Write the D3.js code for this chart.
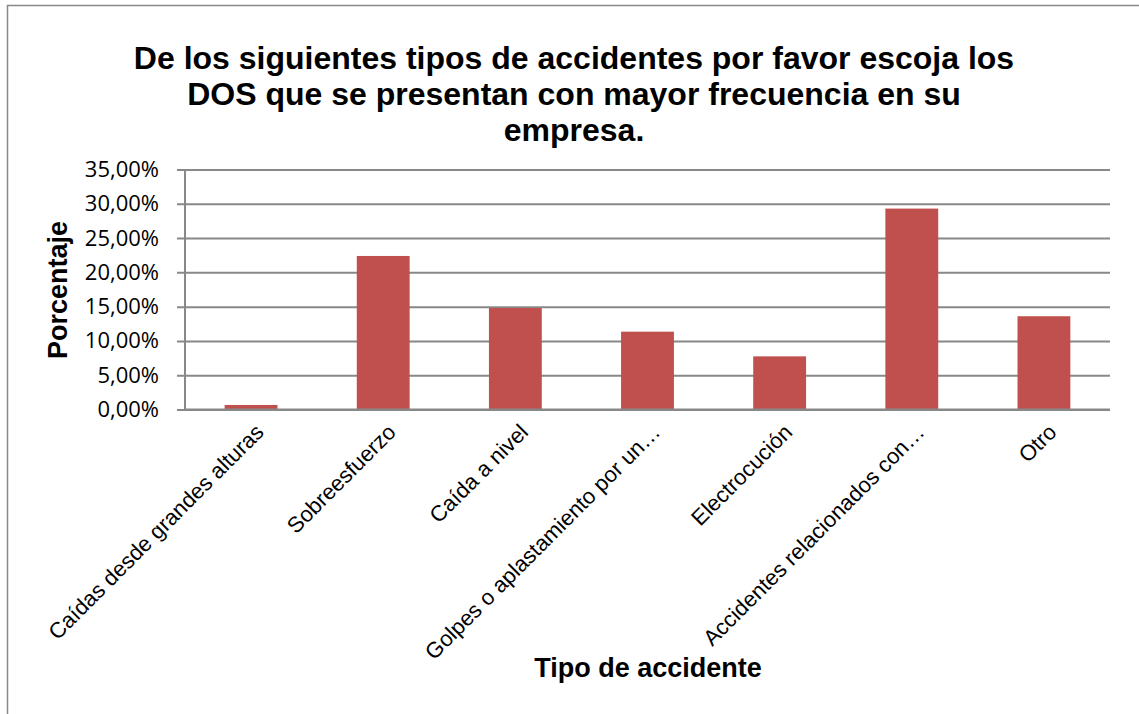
<!DOCTYPE html>
<meta charset="utf-8">
<head>
    <style>
        body { margin: 0; background: white; }
    </style>
</head>
<body>
    <script src="https://d3js.org/d3.v7.min.js"></script>
    <div id="chart"></div>
    <script>
        // data
        var categories = ["Caídas desde grandes alturas", "Sobreesfuerzo", "Caída a nivel",
            "Golpes o aplastamiento por un…", "Electrocución", "Accidentes relacionados con…", "Otro"];
        var values = [0.66, 22.39, 14.80, 11.35, 7.75, 29.30, 13.60];
        var yTicks = [0, 5, 10, 15, 20, 25, 30, 35];
        var titleLines = ["De los siguientes tipos de accidentes por favor escoja los",
            "DOS que se presentan con mayor frecuencia en su", "empresa."];

        var W = 1139, H = 714;
        var plot = { left: 185, right: 1110, top: 169.5, bottom: 409.5 };
        var arial = "'Liberation Sans', Arial, sans-serif";

        var svg = d3.select("#chart").append("svg")
            .attr("width", W)
            .attr("height", H);

        // outer chart border
        svg.append("rect")
            .attr("x", 7.5).attr("y", 5.5)
            .attr("width", W + 20).attr("height", H + 20)
            .attr("fill", "white")
            .attr("stroke", "#888")
            .attr("stroke-width", 1.5);

        var x = d3.scaleBand()
            .domain(categories)
            .range([plot.left, plot.right])
            .paddingInner(0.6)
            .paddingOuter(0.3);

        var y = d3.scaleLinear()
            .domain([0, 35])
            .range([plot.bottom, plot.top]);

        // grid lines + y axis ticks
        var yAxis = svg.append("g")
            .attr("transform", "translate(" + plot.left + ",0)")
            .call(d3.axisLeft(y)
                .tickValues(yTicks)
                .tickSize(-(plot.right - plot.left))
                .tickPadding(26)
                .tickFormat(function (d) { return d3.format(".2f")(d).replace(".", ",") + "%"; }));
        yAxis.select(".domain").remove();
        yAxis.selectAll(".tick line")
            .attr("x1", -8)
            .attr("stroke", "#888")
            .attr("stroke-width", 2);
        yAxis.selectAll(".tick text")
            .style("font-family", "'Open Sans', sans-serif")
            .style("font-size", "22px")
            .attr("fill", "#000");

        // vertical axis line
        svg.append("line")
            .attr("x1", plot.left).attr("x2", plot.left)
            .attr("y1", plot.top).attr("y2", plot.bottom)
            .attr("stroke", "#888")
            .attr("stroke-width", 2);

        // bars
        svg.append("g")
            .selectAll("rect")
            .data(values)
            .enter()
            .append("rect")
            .attr("x", function (d, i) { return x(categories[i]); })
            .attr("y", function (d) { return y(d); })
            .attr("width", x.bandwidth())
            .attr("height", function (d) { return y(0) - y(d); })
            .attr("fill", "#c0504d");

        // x axis line on top of bars
        svg.append("line")
            .attr("x1", plot.left).attr("x2", plot.right)
            .attr("y1", plot.bottom).attr("y2", plot.bottom)
            .attr("stroke", "#888")
            .attr("stroke-width", 2);

        // category labels (rotated)
        svg.append("g")
            .selectAll("text")
            .data(categories)
            .enter()
            .append("text")
            .attr("transform", function (d) {
                var cx = x(d) + x.bandwidth() / 2 + 14;
                return "translate(" + cx + "," + (plot.bottom + 24) + ") rotate(-45)";
            })
            .attr("text-anchor", "end")
            .style("font-family", arial)
            .style("font-size", "22px")
            .attr("fill", "#000")
            .text(function (d) { return d; });

        // title
        svg.append("g")
            .selectAll("text")
            .data(titleLines)
            .enter()
            .append("text")
            .attr("x", 574)
            .attr("y", function (d, i) { return 69 + i * 36; })
            .attr("text-anchor", "middle")
            .style("font-family", arial)
            .style("font-weight", "bold")
            .style("font-size", "32px")
            .attr("fill", "#000")
            .text(function (d) { return d; });

        // axis titles
        svg.append("text")
            .attr("transform", "translate(67,290) rotate(-90)")
            .attr("text-anchor", "middle")
            .style("font-family", arial)
            .style("font-weight", "bold")
            .style("font-size", "27px")
            .text("Porcentaje");

        svg.append("text")
            .attr("x", 648)
            .attr("y", 677)
            .attr("text-anchor", "middle")
            .style("font-family", arial)
            .style("font-weight", "bold")
            .style("font-size", "27px")
            .text("Tipo de accidente");
    </script>
</body>
